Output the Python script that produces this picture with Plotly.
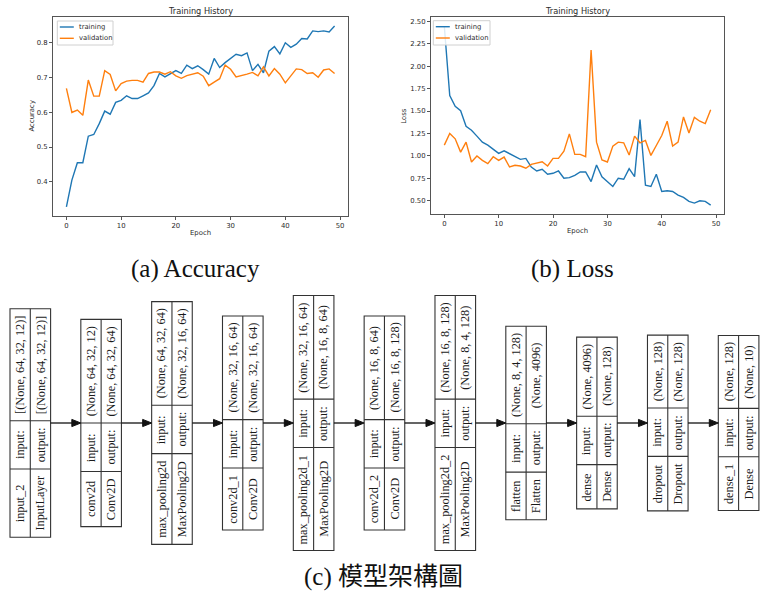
import plotly.graph_objects as go

# ---------------- data ----------------
epochs = list(range(50))
train_acc = [0.328, 0.405, 0.455, 0.455, 0.531, 0.536, 0.567, 0.603, 0.594, 0.628,
             0.634, 0.647, 0.639, 0.639, 0.647, 0.655, 0.676, 0.711, 0.701, 0.709,
             0.719, 0.711, 0.735, 0.725, 0.733, 0.722, 0.709, 0.754, 0.728, 0.742,
             0.754, 0.766, 0.762, 0.770, 0.719, 0.737, 0.713, 0.775, 0.788, 0.767,
             0.799, 0.786, 0.795, 0.811, 0.810, 0.833, 0.831, 0.833, 0.830, 0.847]
val_acc = [0.668, 0.599, 0.606, 0.591, 0.692, 0.646, 0.646, 0.719, 0.708, 0.661,
           0.682, 0.689, 0.691, 0.691, 0.686, 0.711, 0.715, 0.715, 0.709, 0.716,
           0.704, 0.697, 0.705, 0.709, 0.713, 0.703, 0.676, 0.686, 0.696, 0.735,
           0.723, 0.701, 0.704, 0.709, 0.714, 0.704, 0.730, 0.704, 0.725, 0.709,
           0.684, 0.703, 0.724, 0.722, 0.711, 0.713, 0.700, 0.721, 0.724, 0.711]
train_loss = [2.445, 1.673, 1.552, 1.504, 1.330, 1.286, 1.220, 1.153, 1.120, 1.079,
              1.028, 1.057, 1.028, 0.998, 0.961, 0.972, 0.876, 0.832, 0.850, 0.795,
              0.806, 0.832, 0.751, 0.758, 0.784, 0.821, 0.821, 0.714, 0.899, 0.766,
              0.714, 0.659, 0.751, 0.740, 0.858, 0.769, 1.404, 0.673, 0.659, 0.795,
              0.603, 0.611, 0.603, 0.563, 0.537, 0.493, 0.474, 0.500, 0.493, 0.452]
val_loss = [1.120, 1.249, 1.190, 1.042, 1.153, 0.932, 0.998, 0.950, 0.913, 0.991,
            0.950, 0.987, 0.876, 0.895, 0.887, 0.862, 0.906, 0.924, 0.935, 0.887,
            0.972, 0.972, 1.053, 1.245, 1.017, 1.017, 0.991, 2.179, 1.153, 0.954,
            0.932, 1.109, 1.153, 1.146, 1.009, 1.220, 1.146, 1.172, 1.005, 1.116,
            1.227, 1.386, 1.109, 1.153, 1.434, 1.256, 1.430, 1.386, 1.360, 1.515]

epoch_ticks = [0, 10, 20, 30, 40, 50]
acc_ticks = [0.4, 0.5, 0.6, 0.7, 0.8]
loss_ticks = [0.50, 0.75, 1.00, 1.25, 1.50, 1.75, 2.00, 2.25, 2.50]

series_names = ["training", "validation"]

layer_names = ["input_2", "conv2d", "max_pooling2d", "conv2d_1", "max_pooling2d_1",
               "conv2d_2", "max_pooling2d_2", "flatten", "dense", "dropout", "dense_1"]
layer_types = ["InputLayer", "Conv2D", "MaxPooling2D", "Conv2D", "MaxPooling2D",
               "Conv2D", "MaxPooling2D", "Flatten", "Dense", "Dropout", "Dense"]
input_shapes = ["[(None, 64, 32, 12)]", "(None, 64, 32, 12)", "(None, 64, 32, 64)",
                "(None, 32, 16, 64)", "(None, 32, 16, 64)", "(None, 16, 8, 64)",
                "(None, 16, 8, 128)", "(None, 8, 4, 128)", "(None, 4096)",
                "(None, 128)", "(None, 128)"]
output_shapes = ["[(None, 64, 32, 12)]", "(None, 64, 32, 64)", "(None, 32, 16, 64)",
                 "(None, 32, 16, 64)", "(None, 16, 8, 64)", "(None, 16, 8, 128)",
                 "(None, 8, 4, 128)", "(None, 4096)", "(None, 128)",
                 "(None, 128)", "(None, 10)"]

captions = ["(a) Accuracy", "(b) Loss", "(c) 模型架構圖"]

# ---------------- layout helpers ----------------
W, H = 763, 597
COLORS = ["#1f77b4", "#ff7f0e"]
TXT = "#2b2b2b"


def px(x):
    return x / W


def py(y):
    return 1 - y / H


def mpl_range(vals):
    lo, hi = min(vals), max(vals)
    s = hi - lo
    return [lo - 0.05 * s, hi + 0.05 * s]


fig = go.Figure()
for (xa, ya), ser in ((("x", "y"), (train_acc, val_acc)), (("x2", "y2"), (train_loss, val_loss))):
    for name, vals, col in zip(series_names, ser, COLORS):
        fig.add_trace(go.Scatter(x=epochs, y=vals, mode="lines", name=name,
                                 line=dict(color=col, width=1.4), xaxis=xa, yaxis=ya,
                                 showlegend=False))

axis_common = dict(showgrid=False, zeroline=False, showline=True, mirror=True,
                   linecolor="#555", linewidth=1, ticks="outside", ticklen=3,
                   tickcolor="#555", tickfont=dict(family="DejaVu Sans", size=6.9, color=TXT))

panels = [  # (left, right, top, bottom) in px
    (53, 348, 17, 216),
    (431, 724, 17.3, 214),
]

fig.update_layout(
    width=W, height=H, margin=dict(l=0, r=0, t=0, b=0),
    paper_bgcolor="white", plot_bgcolor="white", showlegend=False,
    xaxis=dict(domain=[px(panels[0][0]), px(panels[0][1])], anchor="y",
               range=mpl_range(epochs), tickvals=epoch_ticks, **axis_common),
    yaxis=dict(domain=[py(panels[0][3]), py(panels[0][2])], anchor="x",
               range=mpl_range(train_acc + val_acc), tickvals=acc_ticks,
               tickformat=".1f", **axis_common),
    xaxis2=dict(domain=[px(panels[1][0]), px(panels[1][1])], anchor="y2",
                range=mpl_range(epochs), tickvals=epoch_ticks, **axis_common),
    yaxis2=dict(domain=[py(panels[1][3]), py(panels[1][2])], anchor="x2",
                range=mpl_range(train_loss + val_loss), tickvals=loss_ticks,
                tickformat=".2f", **axis_common),
)

ann = []
shapes = []

# chart titles / axis labels
for (l, r, t, b), ylab in zip(panels, ["Accuracy", "Loss"]):
    cx = (l + r) / 2
    cy = (t + b) / 2
    ann.append(dict(text="Training History", x=px(cx), y=py(10.5), xref="paper", yref="paper",
                    showarrow=False, xanchor="center", yanchor="middle",
                    font=dict(family="DejaVu Sans", size=8.2, color=TXT)))
    ann.append(dict(text="Epoch", x=px(cx), y=py(b + 17), xref="paper", yref="paper",
                    showarrow=False, xanchor="center", yanchor="middle",
                    font=dict(family="DejaVu Sans", size=6.9, color=TXT)))
    ann.append(dict(text=ylab, x=px(l - (21 if ylab == "Accuracy" else 27)), y=py(cy),
                    xref="paper", yref="paper", textangle=-90,
                    showarrow=False, xanchor="center", yanchor="middle",
                    font=dict(family="DejaVu Sans", size=6.9, color=TXT)))

# legends (matplotlib style, upper left inside each panel)
legend_boxes = [(57.3, 21, 113, 45), (433.3, 20.7, 490, 45)]
for (bl, bt, br, bb) in legend_boxes:
    shapes.append(dict(type="rect", xref="paper", yref="paper", x0=px(bl), x1=px(br),
                       y0=py(bt), y1=py(bb), line=dict(color="#d0d0d0", width=1),
                       fillcolor="rgba(255,255,255,0.85)"))
    for k, (name, col) in enumerate(zip(series_names, COLORS)):
        ly = bt + 6 + k * 11.3
        shapes.append(dict(type="line", xref="paper", yref="paper",
                           x0=px(bl + 2.5), x1=px(bl + 16.5), y0=py(ly), y1=py(ly),
                           line=dict(color=col, width=1.4)))
        ann.append(dict(text=name, x=px(bl + 20), y=py(ly), xref="paper", yref="paper",
                        showarrow=False, xanchor="left", yanchor="middle",
                        font=dict(family="DejaVu Sans", size=6.8, color=TXT)))

# captions
cap_pos = [(195, 269), (572, 269), (383, 577)]
for text, (cx, cy) in zip(captions, cap_pos):
    ann.append(dict(text=text, x=px(cx), y=py(cy), xref="paper", yref="paper",
                    showarrow=False, xanchor="center", yanchor="middle",
                    font=dict(family="Liberation Serif, Noto Sans CJK TC", size=25, color="#111")))

# ---------------- model diagram ----------------
TW = {' ': 250, '(': 333, ')': 333, '[': 333, ']': 333, ',': 250, ':': 278, '_': 500,
      'N': 722, 'I': 333, 'L': 611, 'C': 667, 'D': 722, 'M': 889, 'P': 556, 'F': 556,
      'a': 444, 'c': 444, 'd': 500, 'e': 444, 'f': 333, 'g': 500, 'i': 278, 'l': 278,
      'm': 778, 'n': 500, 'o': 500, 'p': 500, 'r': 333, 's': 389, 't': 278, 'u': 500,
      'v': 500, 'x': 500, 'y': 500}
FS = 12.3
PAD = 13.5


def tw(s):
    return sum(TW.get(ch, 500) for ch in s) / 1000 * FS


BOX_W = 40.6
X0, STEP, YC = 10, 70.83, 423
LINE = "#333"
boxes = []
for i in range(len(layer_names)):
    s1 = max(tw(input_shapes[i]), tw(output_shapes[i])) + PAD
    s2 = max(tw("input:"), tw("output:")) + PAD
    s3 = max(tw(layer_names[i]), tw(layer_types[i])) + PAD
    total = s1 + s2 + s3
    left = X0 + i * STEP
    top = YC - total / 2
    boxes.append((left, top, total))
    xm = left + BOX_W / 2
    shapes.append(dict(type="rect", xref="paper", yref="paper",
                       x0=px(left), x1=px(left + BOX_W), y0=py(top), y1=py(top + total),
                       line=dict(color=LINE, width=1.1), fillcolor="rgba(0,0,0,0)"))
    shapes.append(dict(type="line", xref="paper", yref="paper",
                       x0=px(xm), x1=px(xm), y0=py(top), y1=py(top + total),
                       line=dict(color=LINE, width=1.1)))
    for d in (s1, s1 + s2):
        shapes.append(dict(type="line", xref="paper", yref="paper",
                           x0=px(left), x1=px(left + BOX_W), y0=py(top + d), y1=py(top + d),
                           line=dict(color=LINE, width=1.1)))
    centers = [top + s1 / 2, top + s1 + s2 / 2, top + s1 + s2 + s3 / 2]
    col_l = [input_shapes[i], "input:", layer_names[i]]
    col_r = [output_shapes[i], "output:", layer_types[i]]
    for cy, tl, tr in zip(centers, col_l, col_r):
        for cx, t in ((left + BOX_W / 4, tl), (left + 3 * BOX_W / 4, tr)):
            ann.append(dict(text=t, x=px(cx), y=py(cy), xref="paper", yref="paper",
                            textangle=-90, showarrow=False, xanchor="center",
                            yanchor="middle",
                            font=dict(family="Liberation Serif", size=FS, color="#1a1a1a")))

# arrows between layers
HEAD_L, HEAD_W = 9, 3.6
for i in range(len(boxes) - 1):
    xs = boxes[i][0] + BOX_W
    xe = boxes[i + 1][0]
    shapes.append(dict(type="line", xref="paper", yref="paper",
                       x0=px(xs), x1=px(xe - HEAD_L + 1), y0=py(YC), y1=py(YC),
                       line=dict(color="#111", width=1.3)))
    path = "M {},{} L {},{} L {},{} Z".format(px(xe), py(YC), px(xe - HEAD_L), py(YC - HEAD_W),
                                              px(xe - HEAD_L), py(YC + HEAD_W))
    shapes.append(dict(type="path", xref="paper", yref="paper", path=path,
                       fillcolor="#111", line=dict(color="#111", width=1)))

fig.update_layout(annotations=ann, shapes=shapes)
fig.write_html("out.html", config={"displayModeBar": False},
               post_script="document.body.style.margin='0';"
                           "document.body.style.padding='0';"
                           "document.body.style.overflow='hidden';")
